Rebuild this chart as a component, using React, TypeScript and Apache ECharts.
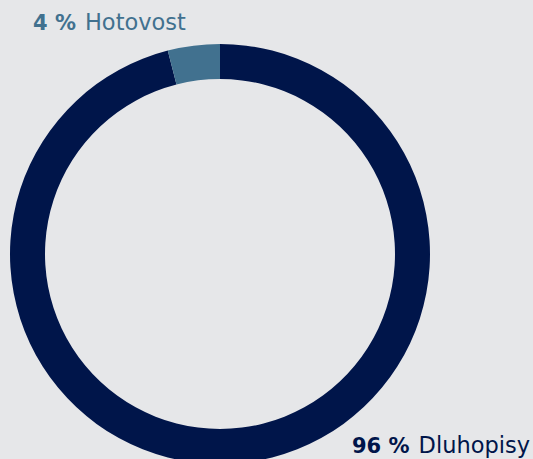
import React, { useEffect, useRef } from "react";
import * as echarts from "echarts";

const categories = ["Dluhopisy", "Hotovost"];
const values = [96, 4];
const colors = ["#00154a", "#41718f"];

export default function App() {
  const ref = useRef<HTMLDivElement>(null);
  useEffect(() => {
    document.body.style.margin = "0";
    const chart = echarts.init(ref.current!, null, { renderer: "svg" });
    const font = "DejaVu Sans";
    const rich = (c: string) => ({
      b: { fontFamily: font, fontSize: 21, fontWeight: "bold", fill: c, lineHeight: 26, verticalAlign: "bottom" },
      r: { fontFamily: font, fontSize: 22.5, fill: c, padding: [0, 0, 0, 9], lineHeight: 26, verticalAlign: "bottom" },
    });
    chart.setOption({
      animation: false,
      backgroundColor: "#e6e7e9",
      series: [
        {
          type: "pie",
          center: [220, 254],
          radius: [175, 210],
          startAngle: 90,
          clockwise: true,
          label: { show: false },
          labelLine: { show: false },
          silent: true,
          data: categories.map((c, i) => ({ name: c, value: values[i], itemStyle: { color: colors[i] } })),
        },
      ],
      graphic: [
        {
          type: "text",
          left: 33,
          top: 10,
          style: {
            text: `{b|${values[1]} %}{r|${categories[1]}}`,
            rich: rich(colors[1]),
          },
        },
        {
          type: "text",
          right: 3,
          top: 433,
          style: {
            text: `{b|${values[0]} %}{r|${categories[0]}}`,
            rich: rich(colors[0]),
          },
        },
      ],
    });
    return () => chart.dispose();
  }, []);
  return <div ref={ref} style={{ width: 533, height: 459 }} />;
}
